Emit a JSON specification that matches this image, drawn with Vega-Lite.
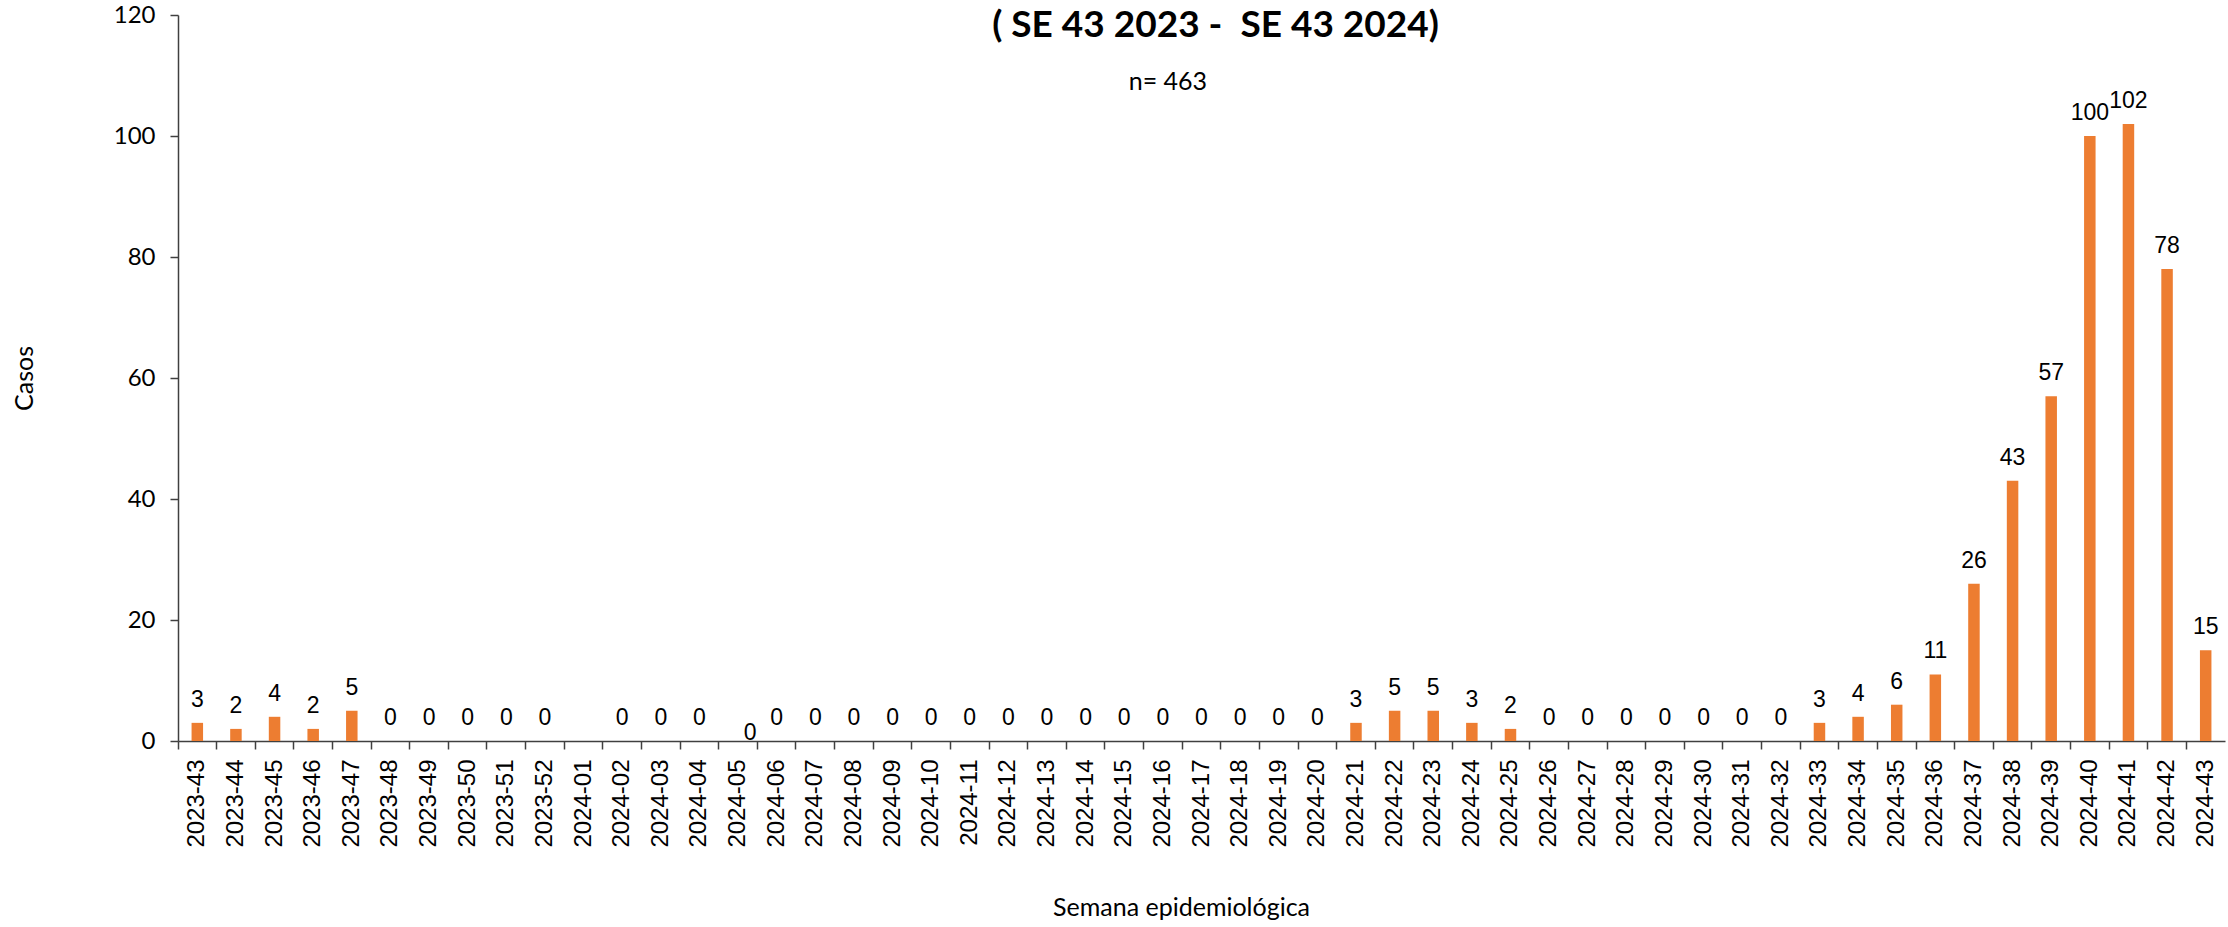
{
  "$schema": "https://vega.github.io/schema/vega-lite/v6.json",
  "width": 2047,
  "height": 726,
  "autosize": {"type": "none"},
  "padding": {"left": 178, "top": 15, "right": 3, "bottom": 186},
  "background": "white",
  "config": {"view": {"stroke": null}},
  "title": {
    "text": "( SE 43 2023 -\u00a0 SE 43 2024)",
    "font": "Lato",
    "fontWeight": "bold",
    "fontSize": 37,
    "color": "black",
    "anchor": "middle",
    "dx": 14,
    "offset": -42
  },
  "data": {
    "values": [
      {"semana": "2023-43", "casos": 3},
      {"semana": "2023-44", "casos": 2},
      {"semana": "2023-45", "casos": 4},
      {"semana": "2023-46", "casos": 2},
      {"semana": "2023-47", "casos": 5},
      {"semana": "2023-48", "casos": 0},
      {"semana": "2023-49", "casos": 0},
      {"semana": "2023-50", "casos": 0},
      {"semana": "2023-51", "casos": 0},
      {"semana": "2023-52", "casos": 0},
      {"semana": "2024-01", "casos": null},
      {"semana": "2024-02", "casos": 0},
      {"semana": "2024-03", "casos": 0},
      {"semana": "2024-04", "casos": 0},
      {"semana": "2024-05", "casos": 0},
      {"semana": "2024-06", "casos": 0},
      {"semana": "2024-07", "casos": 0},
      {"semana": "2024-08", "casos": 0},
      {"semana": "2024-09", "casos": 0},
      {"semana": "2024-10", "casos": 0},
      {"semana": "2024-11", "casos": 0},
      {"semana": "2024-12", "casos": 0},
      {"semana": "2024-13", "casos": 0},
      {"semana": "2024-14", "casos": 0},
      {"semana": "2024-15", "casos": 0},
      {"semana": "2024-16", "casos": 0},
      {"semana": "2024-17", "casos": 0},
      {"semana": "2024-18", "casos": 0},
      {"semana": "2024-19", "casos": 0},
      {"semana": "2024-20", "casos": 0},
      {"semana": "2024-21", "casos": 3},
      {"semana": "2024-22", "casos": 5},
      {"semana": "2024-23", "casos": 5},
      {"semana": "2024-24", "casos": 3},
      {"semana": "2024-25", "casos": 2},
      {"semana": "2024-26", "casos": 0},
      {"semana": "2024-27", "casos": 0},
      {"semana": "2024-28", "casos": 0},
      {"semana": "2024-29", "casos": 0},
      {"semana": "2024-30", "casos": 0},
      {"semana": "2024-31", "casos": 0},
      {"semana": "2024-32", "casos": 0},
      {"semana": "2024-33", "casos": 3},
      {"semana": "2024-34", "casos": 4},
      {"semana": "2024-35", "casos": 6},
      {"semana": "2024-36", "casos": 11},
      {"semana": "2024-37", "casos": 26},
      {"semana": "2024-38", "casos": 43},
      {"semana": "2024-39", "casos": 57},
      {"semana": "2024-40", "casos": 100},
      {"semana": "2024-41", "casos": 102},
      {"semana": "2024-42", "casos": 78},
      {"semana": "2024-43", "casos": 15}
    ]
  },
  "encoding": {
    "x": {
      "field": "semana",
      "type": "ordinal",
      "sort": null,
      "scale": {
        "paddingInner": 0,
        "paddingOuter": 0,
        "domain": ["2023-43","2023-44","2023-45","2023-46","2023-47","2023-48","2023-49","2023-50","2023-51","2023-52","2024-01","2024-02","2024-03","2024-04","2024-05","2024-06","2024-07","2024-08","2024-09","2024-10","2024-11","2024-12","2024-13","2024-14","2024-15","2024-16","2024-17","2024-18","2024-19","2024-20","2024-21","2024-22","2024-23","2024-24","2024-25","2024-26","2024-27","2024-28","2024-29","2024-30","2024-31","2024-32","2024-33","2024-34","2024-35","2024-36","2024-37","2024-38","2024-39","2024-40","2024-41","2024-42","2024-43"]
      },
      "axis": {
        "title": "Semana epidemiológica",
        "titleFont": "Lato",
        "titleFontSize": 25,
        "titleFontWeight": "normal",
        "titleColor": "black",
        "titlePadding": 48,
        "titleX": 1003,
        "labelAngle": -90,
        "labelFont": "Liberation Sans",
        "labelFontSize": 24,
        "labelColor": "black",
        "labelPadding": 10,
        "bandPosition": 0,
        "tickSize": 8,
        "tickColor": "#404040",
        "domainColor": "#404040",
        "tickWidth": 1.5,
        "domainWidth": 1.5
      }
    },
    "y": {
      "field": "casos",
      "type": "quantitative",
      "scale": {"domain": [0, 120], "nice": false},
      "axis": {
        "title": "Casos",
        "titleFont": "Lato",
        "titleFontSize": 25,
        "titleFontWeight": "normal",
        "titleColor": "black",
        "titlePadding": 76,
        "values": [0, 20, 40, 60, 80, 100, 120],
        "labelFont": "Lato",
        "labelFontSize": 24,
        "labelColor": "black",
        "labelPadding": 15,
        "grid": false,
        "tickSize": 8,
        "tickColor": "#404040",
        "domainColor": "#404040",
        "tickWidth": 1.5,
        "domainWidth": 1.5
      }
    }
  },
  "layer": [
    {
      "mark": {"type": "bar", "size": 11.5, "color": "#ED7D31"}
    },
    {
      "transform": [{"filter": "datum.casos != null && datum.semana != '2024-05'"}],
      "mark": {"type": "text", "font": "Liberation Sans", "fontSize": 23, "color": "black", "baseline": "alphabetic", "dy": -16},
      "encoding": {"text": {"field": "casos", "type": "quantitative"}}
    },
    {
      "transform": [{"filter": "datum.semana == '2024-05'"}],
      "mark": {"type": "text", "font": "Liberation Sans", "fontSize": 23, "color": "black", "baseline": "alphabetic", "dy": -1, "dx": 12},
      "encoding": {"text": {"field": "casos", "type": "quantitative"}}
    },
    {
      "transform": [{"filter": "datum.semana == '2024-16'"}],
      "mark": {"type": "text", "font": "Lato", "fontSize": 25, "color": "black", "dx": 5},
      "encoding": {
        "y": {"datum": 109},
        "text": {"value": "n= 463"}
      }
    }
  ]
}
